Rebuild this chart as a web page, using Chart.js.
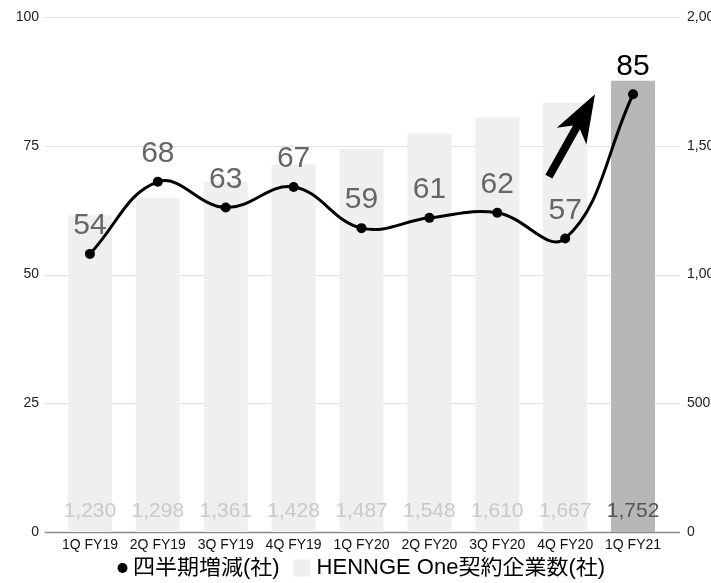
<!DOCTYPE html>
<html lang="ja">
<head>
<meta charset="utf-8">
<title>HENNGE One 契約企業数</title>
<script src="https://cdn.jsdelivr.net/npm/chart.js@4.4.1/dist/chart.umd.min.js"></script>
<style>
  html, body { margin: 0; padding: 0; background: #fff; }
  #wrap { width: 711px; height: 583px; }
</style>
</head>
<body>
<div id="wrap"><canvas id="myChart" width="711" height="583"></canvas></div>
<script>
// 四半期ごとの値
const quarters = ["1Q FY19", "2Q FY19", "3Q FY19", "4Q FY19", "1Q FY20", "2Q FY20", "3Q FY20", "4Q FY20", "1Q FY21"];
const quarterlyAdds = [54, 68, 63, 67, 59, 61, 62, 57, 85];
const customers = [1230, 1298, 1361, 1428, 1487, 1548, 1610, 1667, 1752];
const leftTicks = [0, 25, 50, 75, 100];
const rightTicks = [0, 500, 1000, 1500, 2000];

// 矢印（カテゴリ位置, 左軸の値）
const arrowFrom = { x: 6.76, y: 69 };
const arrowTo = { x: 7.44, y: 85 };

const FONT = "'Liberation Sans', Arial, 'Noto Sans CJK JP', sans-serif";
const lastIdx = customers.length - 1;
const barColors = customers.map((v, i) => (i === lastIdx ? "#b7b7b7" : "#efefef"));

// 凡例のマーカー（幅40の透明キャンバスに右寄せで描く）
const LEGEND_BOX = 26;
function makeMarker(cx, draw) {
  const c = document.createElement("canvas");
  c.width = 40;
  c.height = 20;
  draw(c.getContext("2d"), cx, 10);
  return c;
}
const dotMarker = makeMarker(33.5, (g, x, y) => {
  g.fillStyle = "#000";
  g.beginPath();
  g.arc(x, y, 5, 0, Math.PI * 2);
  g.fill();
});
const squareMarker = makeMarker(29.5, (g, x, y) => {
  g.fillStyle = "#efefef";
  g.fillRect(x - 8.5, y - 8.5, 17, 17);
});

// 縦軸の余白は layout.padding だけで決める
function fixAxis(width) {
  return (s) => {
    s.width = width;
    s.paddingTop = 0;
    s.paddingBottom = 0;
  };
}

// 凡例を少し左に寄せる
const legendShift = {
  id: "legendShift",
  afterLayout(chart) {
    if (!chart.legend) return;
    chart.legend.left -= 5;
    chart.legend.right -= 5;
  },
};

// 横の目盛線と0のベースライン（プロット領域より少し広く引く）
const gridPlugin = {
  id: "wideGrid",
  beforeDatasetsDraw(chart) {
    const { ctx, chartArea, scales } = chart;
    const x0 = chartArea.left - 11;
    const x1 = chartArea.right + 13;
    ctx.save();
    leftTicks.forEach((t) => {
      const y = Math.round(scales.y.getPixelForValue(t)) + 0.5;
      ctx.strokeStyle = t === 0 ? "#8a8a8a" : "#e2e2e2";
      ctx.lineWidth = t === 0 ? 1.5 : 1;
      ctx.beginPath();
      ctx.moveTo(x0, y);
      ctx.lineTo(x1, y);
      ctx.stroke();
    });
    ctx.restore();
  },
};

// データラベル
const labelPlugin = {
  id: "valueLabels",
  afterDatasetDraw(chart, args) {
    if (args.index !== 1) return;
    const { ctx, chartArea } = chart;
    const lineMeta = chart.getDatasetMeta(0);
    const barMeta = chart.getDatasetMeta(1);
    ctx.save();
    ctx.textAlign = "center";
    ctx.textBaseline = "middle";

    ctx.font = "21px " + FONT;
    barMeta.data.forEach((bar, i) => {
      ctx.fillStyle = i === lastIdx ? "#555" : "#c9c9c9";
      ctx.fillText(customers[i].toLocaleString("en-US"), bar.x, chartArea.bottom - 21);
    });

    ctx.font = "30px " + FONT;
    lineMeta.data.forEach((pt, i) => {
      ctx.fillStyle = i === lastIdx ? "#000" : "#666";
      ctx.fillText(String(quarterlyAdds[i]), pt.x, pt.y - 28);
    });
    ctx.restore();
  },
};

// 上向きの矢印
const arrowPlugin = {
  id: "arrow",
  afterDraw(chart) {
    const { ctx, scales } = chart;
    const sx = scales.x.getPixelForValue(arrowFrom.x);
    const sy = scales.y.getPixelForValue(arrowFrom.y);
    const tx = scales.x.getPixelForValue(arrowTo.x);
    const ty = scales.y.getPixelForValue(arrowTo.y);
    const len = Math.hypot(tx - sx, ty - sy);
    const ux = (tx - sx) / len, uy = (ty - sy) / len;
    const nx = -uy, ny = ux;
    const head = 48, notch = 38, hw = 17, sw = 4;
    const p = (a, b) => [tx - ux * a + nx * b, ty - uy * a + ny * b];
    const pts = [
      [tx, ty],
      p(head, hw),
      p(notch, sw),
      [sx + nx * sw, sy + ny * sw],
      [sx - nx * sw, sy - ny * sw],
      p(notch, -sw),
      p(head, -hw),
    ];
    ctx.save();
    ctx.fillStyle = "#000";
    ctx.beginPath();
    pts.forEach(([x, y], i) => (i ? ctx.lineTo(x, y) : ctx.moveTo(x, y)));
    ctx.closePath();
    ctx.fill();
    ctx.restore();
  },
};

const ctx = document.getElementById("myChart").getContext("2d");
new Chart(ctx, {
  data: {
    labels: quarters,
    datasets: [
      {
        type: "line",
        label: "四半期増減(社)",
        data: quarterlyAdds,
        yAxisID: "y",
        borderColor: "#000",
        borderWidth: 3,
        tension: 0.4,
        pointRadius: 5,
        pointBorderWidth: 0,
        pointBackgroundColor: "#000",
        order: 0,
      },
      {
        type: "bar",
        label: "HENNGE One契約企業数(社)",
        data: customers,
        yAxisID: "y1",
        backgroundColor: barColors,
        barPercentage: 0.72,
        categoryPercentage: 0.9,
        order: 1,
      },
    ],
  },
  options: {
    responsive: false,
    animation: false,
    layout: { padding: { top: 17, left: 0, right: 0, bottom: -6 } },
    scales: {
      x: {
        grid: { display: false, drawTicks: false },
        border: { display: false },
        ticks: { color: "#111", font: { family: FONT, size: 14 }, padding: 5, maxRotation: 0 },
        afterFit: (s) => { s.height = 25; },
      },
      y: {
        position: "left",
        min: 0,
        max: 100,
        afterBuildTicks: (s) => { s.ticks = leftTicks.map((v) => ({ value: v })); },
        grid: { display: false, drawTicks: false },
        border: { display: false },
        ticks: { color: "#222", font: { family: FONT, size: 14 }, padding: 17 },
        afterFit: fixAxis(56),
      },
      y1: {
        position: "right",
        min: 0,
        max: 2000,
        afterBuildTicks: (s) => { s.ticks = rightTicks.map((v) => ({ value: v })); },
        grid: { display: false, drawTicks: false },
        border: { display: false },
        ticks: {
          color: "#222",
          font: { family: FONT, size: 14 },
          padding: 20,
          callback: (v) => Number(v).toLocaleString("en-US"),
        },
        afterFit: fixAxis(44),
      },
    },
    plugins: {
      legend: {
        position: "bottom",
        labels: {
          color: "#000",
          font: { family: FONT, size: 22 },
          usePointStyle: true,
          pointStyleWidth: LEGEND_BOX,
          boxHeight: 12,
          padding: 0,
          generateLabels(chart) {
            const items = Chart.defaults.plugins.legend.labels.generateLabels(chart);
            items.forEach((it) => {
              it.pointStyle = it.datasetIndex === 0 ? dotMarker : squareMarker;
            });
            return items;
          },
        },
      },
      tooltip: { enabled: false },
    },
  },
  plugins: [legendShift, gridPlugin, labelPlugin, arrowPlugin],
});
</script>
</body>
</html>
